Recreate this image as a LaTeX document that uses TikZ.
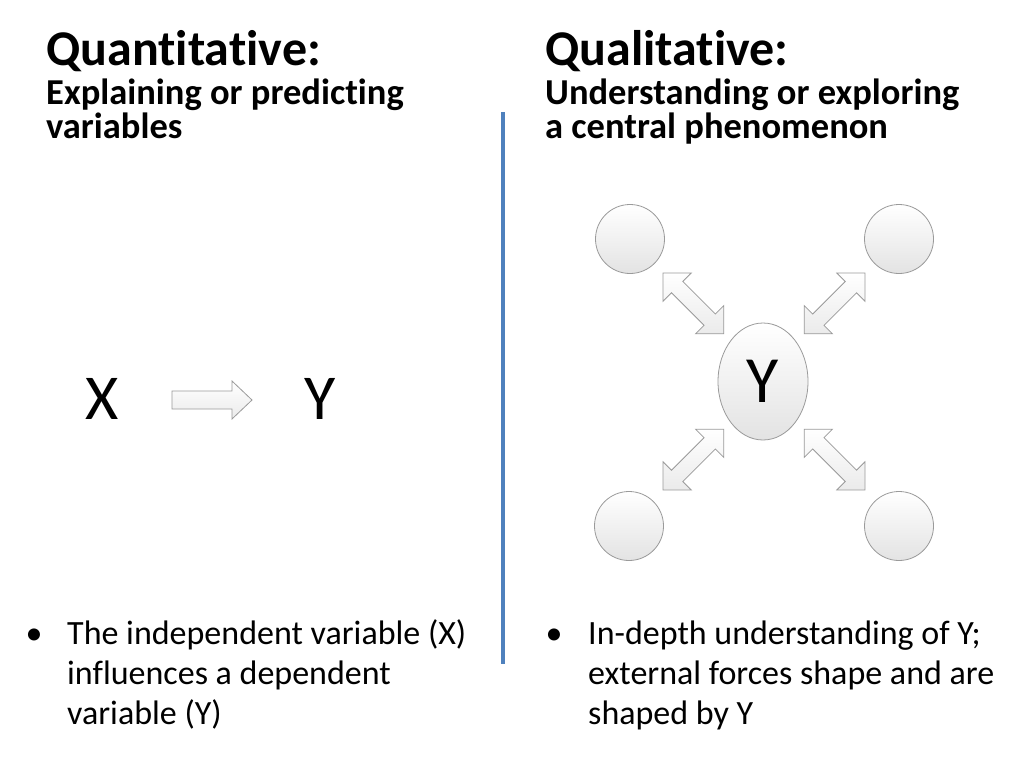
\documentclass[tikz,border=0pt]{standalone}
\usepackage{fontspec}
\setmainfont{Carlito}[Ligatures=CommonOff]
\usetikzlibrary{shapes.geometric}
\definecolor{divblue}{HTML}{4F81BD}
\definecolor{shapeline}{HTML}{9A9A9A}
\newcommand\dblarrow[3]{%
  \draw[blockarrow, shift={(#1,#2)}, rotate=#3]
    (0,0) -- (20,20) -- (20,8) -- (66,8) -- (66,20) -- (86,0)
    -- (66,-20) -- (66,-8) -- (20,-8) -- (20,-20) -- cycle;}
\begin{document}
\begin{tikzpicture}[x=1pt,y=-1pt,
  title/.style={anchor=base west, inner sep=0, font=\fontsize{50}{60}\selectfont\bfseries},
  subtitle/.style={anchor=base west, inner sep=0, font=\fontsize{36.5}{34}\selectfont\bfseries},
  body/.style={anchor=base west, inner sep=0, font=\fontsize{34}{40}\selectfont},
  bigletter/.style={inner sep=0, font=\fontsize{64}{70}\selectfont},
  bubble/.style={circle, minimum size=69pt, inner sep=0, draw=shapeline, line width=0.8pt, top color=white, bottom color=black!11},
  blockarrow/.style={draw=shapeline, line width=0.8pt, top color=white, bottom color=black!8, line join=miter},
]
\useasboundingbox (0,0) rectangle (1024,768);

% titles
\node[title] (qt) at (46,66) {Quantitative:};
\node[subtitle] (qs1) at (46,104) {Explaining or predicting};
\node[subtitle] (qs2) at (46,138) {variables};
\node[title] (lt) at (545,66) {Qualitative:};
\node[subtitle] (ls1) at (545,104) {Understanding or exploring};
\node[subtitle] (ls2) at (545,138) {a central phenomenon};

% divider
\draw[divblue, line width=4pt] (503,112) -- (503,664);

% left diagram
\node[bigletter] (xl) at (102,399) {X};
\node[bigletter] (yl) at (320,399) {Y};
\draw[blockarrow, shift={(172,400)}]
  (0,-9) -- (60,-9) -- (60,-19) -- (80,0) -- (60,19) -- (60,9) -- (0,9) -- cycle;

% right diagram
\node[ellipse, minimum width=90pt, minimum height=117pt, inner sep=0,
      draw=shapeline, line width=0.8pt, top color=white, bottom color=black!11,
      font=\fontsize{66}{70}\selectfont] (yc) at (763,381.5) {Y};
\node[bubble] (c1) at (630,239) {};
\node[bubble] (c2) at (899,239) {};
\node[bubble] (c3) at (629,526) {};
\node[bubble] (c4) at (899,526) {};
\dblarrow{663}{273}{-45}
\dblarrow{865}{273}{-135}
\dblarrow{663}{490}{45}
\dblarrow{865}{490}{135}

% bullets
\node[body, anchor=base] (b1) at (34,644) {•};
\node[body] (l1) at (67,644) {The independent variable (X)};
\node[body] (l2) at (67,684) {influences a dependent};
\node[body] (l3) at (67,724) {variable (Y)};
\node[body, anchor=base] (b2) at (554,644) {•};
\node[body] (r1) at (588,644) {In-depth understanding of Y;};
\node[body] (r2) at (588,684) {external forces shape and are};
\node[body] (r3) at (588,724) {shaped by Y};
\end{tikzpicture}
\end{document}
